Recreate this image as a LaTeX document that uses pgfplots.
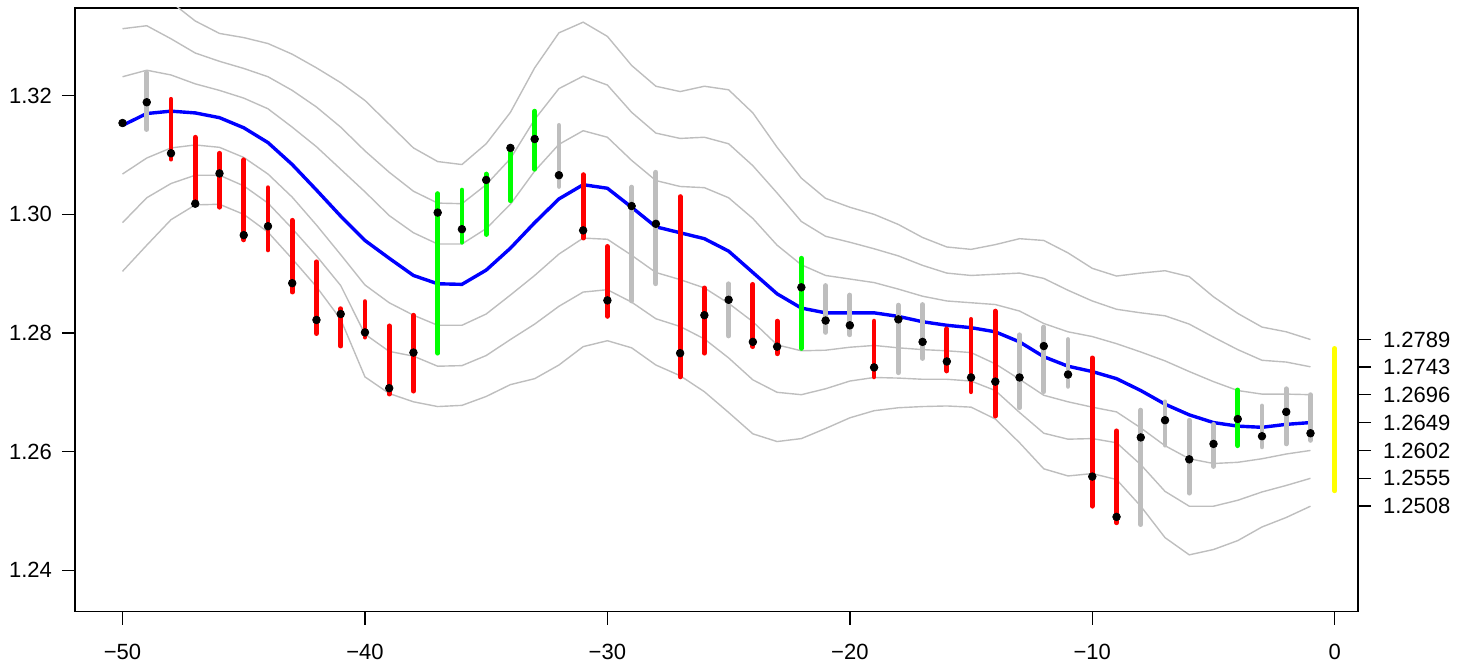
\documentclass[border=0pt]{standalone}
\usepackage{pgfplots}
\pgfplotsset{compat=1.18}
\usepackage{pgfplotstable}
\usepackage{fontspec}
\setmainfont{Liberation Sans}

\definecolor{rgray}{HTML}{BEBEBE}
\definecolor{rred}{HTML}{FF0000}
\definecolor{rgreen}{HTML}{00FF00}
\definecolor{rblue}{HTML}{0000FF}
\definecolor{ryellow}{HTML}{FFFF00}

% moving average (b) with bands at +-1, +-2, +-3 deviations
\pgfplotstableread{
x   u3     u2     u1     b      l1     l2     l3
-50 1.3397 1.3313 1.3232 1.3150 1.3068 1.2986 1.2904
-49 1.3392 1.3318 1.3243 1.3170 1.3095 1.3028 1.2948
-48 1.3358 1.3296 1.3235 1.3174 1.3112 1.3052 1.2991
-47 1.3326 1.3272 1.3220 1.3171 1.3117 1.3066 1.3016
-46 1.3305 1.3258 1.3209 1.3163 1.3113 1.3066 1.3017
-45 1.3298 1.3246 1.3196 1.3146 1.3096 1.3048 1.3000
-44 1.3288 1.3232 1.3178 1.3121 1.3068 1.3019 1.2970
-43 1.3270 1.3209 1.3147 1.3084 1.3029 1.2976 1.2925
-42 1.3247 1.3181 1.3114 1.3041 1.2982 1.2930 1.2878
-41 1.3222 1.3147 1.3076 1.2997 1.2932 1.2880 1.2823
-40 1.3192 1.3107 1.3038 1.2956 1.2881 1.2798 1.2726
-39 1.3152 1.3071 1.2998 1.2926 1.2851 1.2769 1.2698
-38 1.3112 1.3039 1.2969 1.2897 1.2830 1.2761 1.2684
-37 1.3089 1.3019 1.2950 1.2883 1.2813 1.2744 1.2676
-36 1.3084 1.3018 1.2950 1.2882 1.2813 1.2745 1.2678
-35 1.3119 1.3050 1.2976 1.2906 1.2832 1.2762 1.2693
-34 1.3172 1.3094 1.3017 1.2943 1.2864 1.2789 1.2713
-33 1.3247 1.3160 1.3073 1.2986 1.2897 1.2815 1.2723
-32 1.3306 1.3212 1.3118 1.3026 1.2933 1.2845 1.2746
-31 1.3324 1.3233 1.3141 1.3050 1.2960 1.2869 1.2777
-30 1.3300 1.3218 1.3130 1.3044 1.2958 1.2873 1.2787
-29 1.3251 1.3172 1.3091 1.3012 1.2931 1.2852 1.2775
-28 1.3216 1.3137 1.3057 1.2979 1.2902 1.2824 1.2746
-27 1.3207 1.3128 1.3047 1.2969 1.2890 1.2811 1.2728
-26 1.3216 1.3130 1.3045 1.2959 1.2876 1.2790 1.2701
-25 1.3210 1.3119 1.3028 1.2938 1.2850 1.2758 1.2666
-24 1.3171 1.3082 1.2993 1.2902 1.2819 1.2721 1.2630
-23 1.3113 1.3036 1.2948 1.2866 1.2780 1.2700 1.2617
-22 1.3061 1.2988 1.2915 1.2842 1.2770 1.2696 1.2622
-21 1.3027 1.2963 1.2897 1.2834 1.2771 1.2706 1.2639
-20 1.3012 1.2953 1.2891 1.2834 1.2776 1.2719 1.2657
-19 1.3000 1.2942 1.2885 1.2834 1.2779 1.2725 1.2669
-18 1.2983 1.2930 1.2874 1.2828 1.2775 1.2724 1.2674
-17 1.2961 1.2914 1.2862 1.2819 1.2772 1.2722 1.2676
-16 1.2945 1.2901 1.2854 1.2813 1.2770 1.2722 1.2677
-15 1.2941 1.2897 1.2851 1.2809 1.2767 1.2719 1.2675
-14 1.2949 1.2899 1.2848 1.2802 1.2748 1.2703 1.2655
-13 1.2959 1.2901 1.2837 1.2785 1.2722 1.2666 1.2615
-12 1.2956 1.2892 1.2816 1.2760 1.2695 1.2631 1.2571
-11 1.2935 1.2872 1.2802 1.2744 1.2684 1.2621 1.2559
-10 1.2909 1.2854 1.2794 1.2735 1.2675 1.2622 1.2563
-9  1.2896 1.2840 1.2782 1.2723 1.2667 1.2615 1.2553
-8  1.2901 1.2834 1.2768 1.2703 1.2640 1.2578 1.2508
-7  1.2905 1.2829 1.2753 1.2680 1.2610 1.2533 1.2455
-6  1.2895 1.2815 1.2735 1.2662 1.2588 1.2508 1.2426
-5  1.2861 1.2793 1.2718 1.2649 1.2580 1.2508 1.2435
-4  1.2833 1.2772 1.2703 1.2643 1.2582 1.2518 1.2450
-3  1.2810 1.2754 1.2697 1.2641 1.2588 1.2532 1.2473
-2  1.2802 1.2751 1.2697 1.2646 1.2596 1.2543 1.2489
-1  1.2789 1.2743 1.2696 1.2649 1.2602 1.2555 1.2508
}\bands

% closing values
\pgfplotstableread{
x   c
-50 1.3154
-49 1.3189
-48 1.3103
-47 1.3018
-46 1.3069
-45 1.2965
-44 1.2980
-43 1.2884
-42 1.2822
-41 1.2832
-40 1.2801
-39 1.2707
-38 1.2767
-37 1.3003
-36 1.2975
-35 1.3058
-34 1.3112
-33 1.3127
-32 1.3066
-31 1.2973
-30 1.2855
-29 1.3014
-28 1.2984
-27 1.2766
-26 1.2830
-25 1.2856
-24 1.2785
-23 1.2777
-22 1.2877
-21 1.2821
-20 1.2813
-19 1.2742
-18 1.2823
-17 1.2785
-16 1.2752
-15 1.2725
-14 1.2718
-13 1.2725
-12 1.2778
-11 1.2730
-10 1.2558
-9  1.2490
-8  1.2624
-7  1.2653
-6  1.2587
-5  1.2613
-4  1.2655
-3  1.2626
-2  1.2667
-1  1.2631
}\closes

% low-high ranges, one table per colour
\pgfplotstableread{
x   lo     hi
-48 1.3093 1.3194
-47 1.3017 1.3130
-46 1.3012 1.3103
-45 1.2957 1.3092
-44 1.2940 1.3045
-43 1.2869 1.2990
-42 1.2799 1.2920
-41 1.2778 1.2841
-40 1.2793 1.2853
-39 1.2697 1.2812
-38 1.2702 1.2830
-31 1.2960 1.3067
-30 1.2828 1.2946
-27 1.2726 1.3030
-26 1.2766 1.2876
-24 1.2777 1.2882
-23 1.2765 1.2820
-19 1.2726 1.2820
-16 1.2736 1.2807
-15 1.2701 1.2823
-14 1.2660 1.2837
-10 1.2508 1.2758
-9  1.2480 1.2635
}\redbars

\pgfplotstableread{
x   lo     hi
-37 1.2766 1.3035
-36 1.2953 1.3041
-35 1.2966 1.3068
-34 1.3023 1.3112
-33 1.3076 1.3174
-22 1.2774 1.2926
-4  1.2610 1.2704
}\greenbars

\pgfplotstableread{
x   lo     hi
-49 1.3143 1.3239
-32 1.3047 1.3150
-29 1.2854 1.3046
-28 1.2883 1.3071
-25 1.2795 1.2883
-21 1.2801 1.2880
-20 1.2797 1.2864
-18 1.2733 1.2847
-17 1.2757 1.2848
-13 1.2674 1.2797
-12 1.2701 1.2810
-11 1.2710 1.2789
-8  1.2477 1.2670
-7  1.2611 1.2684
-6  1.2530 1.2653
-5  1.2575 1.2646
-3  1.2608 1.2677
-2  1.2613 1.2706
-1  1.2619 1.2696
}\graybars

\pgfplotstableread{
x   lo     hi
0   1.2534 1.2774
}\yellowbar

\pgfplotsset{
  frame/.style={
    scale only axis, width=641.5bp, height=301.75bp,
    xmin=-51.96, xmax=0.96, ymin=1.23305, ymax=1.33479,
    tick align=outside, major tick length=6.5bp,
    tick style={line width=0.75bp, black},
    axis line style={line width=0.75bp, black, -},
    tick label style={font=\fontsize{11bp}{13bp}\selectfont, text=black},
  },
  range/.style={draw=none, mark=none,
    error bars/y dir=plus, error bars/y explicit, error bars/error mark=none,
    error bars/error bar style={draw=#1, line width=2.4bp, line cap=round}},
  bandline/.style={rgray, line width=0.7bp, mark=none},
}

\begin{document}
\begin{tikzpicture}
\begin{axis}[frame, name=main,
  xtick={-50,-40,-30,-20,-10,0},
  xticklabels={−50,−40,−30,−20,−10,0},
  ytick={1.24,1.26,1.28,1.30,1.32},
  yticklabels={1.24,1.26,1.28,1.30,1.32},
  xtick pos=left, ytick pos=left,
  xticklabel style={yshift=-6.5bp},
  yticklabel style={xshift=-1.5bp},
]
\addplot[bandline] table[x=x, y=u3] {\bands};
\addplot[bandline] table[x=x, y=u2] {\bands};
\addplot[bandline] table[x=x, y=u1] {\bands};
\addplot[bandline] table[x=x, y=l1] {\bands};
\addplot[bandline] table[x=x, y=l2] {\bands};
\addplot[bandline] table[x=x, y=l3] {\bands};
\addplot[rblue, line width=1.7bp, mark=none] table[x=x, y=b] {\bands};

\addplot[range=rgray] table[x=x, y=lo, y error plus expr=\thisrow{hi}-\thisrow{lo}] {\graybars};
\addplot[range=rred] table[x=x, y=lo, y error plus expr=\thisrow{hi}-\thisrow{lo}] {\redbars};
\addplot[range=rgreen] table[x=x, y=lo, y error plus expr=\thisrow{hi}-\thisrow{lo}] {\greenbars};
\addplot[range=ryellow] table[x=x, y=lo, y error plus expr=\thisrow{hi}-\thisrow{lo}] {\yellowbar};

\addplot[only marks, mark=*, mark size=1.9bp, mark options={draw=none, fill=black}] table[x=x, y=c] {\closes};
\end{axis}

\begin{axis}[frame,
  hide x axis, axis y line*=right,
  ytick={1.2508,1.2555,1.2602,1.2649,1.2696,1.2743,1.2789},
  yticklabels={1.2508,1.2555,1.2602,1.2649,1.2696,1.2743,1.2789},
  yticklabel style={xshift=2.5bp},
]
\addplot[draw=none, mark=none] coordinates {(-1,1.2649)};
\end{axis}

\pgfresetboundingbox
\path ([shift={(-37.5bp,-26bp)}]main.south west) rectangle ([shift={(50.5bp,4bp)}]main.north east);
\end{tikzpicture}
\end{document}
